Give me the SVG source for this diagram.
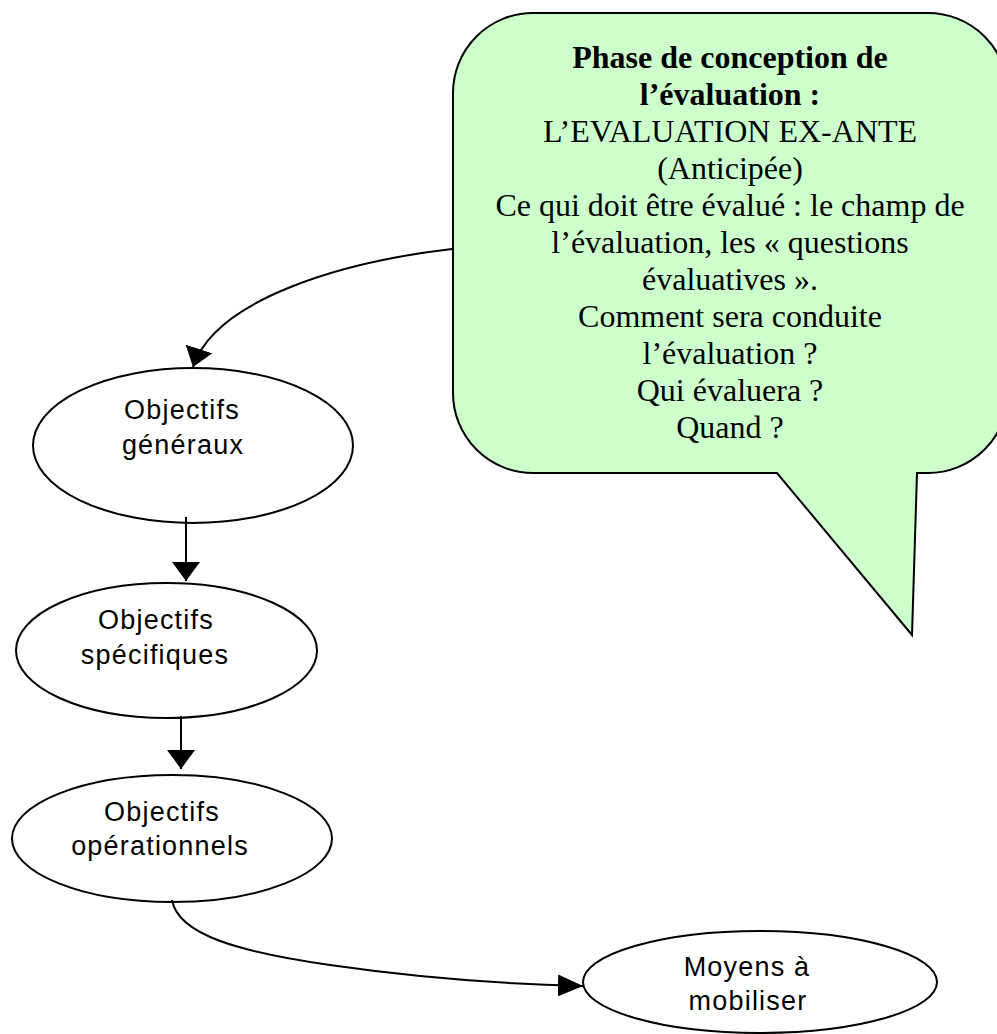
<svg xmlns="http://www.w3.org/2000/svg" width="997" height="1034" viewBox="0 0 997 1034">
  <style>
    .node { fill: #ffffff; stroke: #000000; stroke-width: 2; }
    .callout { fill: #ccffcc; stroke: #000000; stroke-width: 2; stroke-linejoin: miter; }
    .label { font-family: "Liberation Sans", Arial, sans-serif; font-size: 27px; letter-spacing: 1.2px; fill: #000000; text-anchor: middle; }
    .ctext { font-family: "Liberation Serif", "Times New Roman", serif; font-size: 32px; fill: #000000; text-anchor: middle; }
    .bold { font-weight: bold; }
    .link { fill: none; stroke: #000000; stroke-width: 2; }
  </style>
  <defs>
    <marker id="arrow" markerUnits="userSpaceOnUse" viewBox="0 0 19 28" refX="19" refY="14" markerWidth="19" markerHeight="28" orient="auto">
      <path d="M0,0 L19,14 L0,28 Z" fill="#000000"/>
    </marker>
    <marker id="arrow-long" markerUnits="userSpaceOnUse" viewBox="0 0 25 22" refX="25" refY="11" markerWidth="25" markerHeight="22" orient="auto">
      <path d="M0,0 L25,11 L0,22 Z" fill="#000000"/>
    </marker>
  </defs>

  <!-- speech bubble with downward tail -->
  <g id="callout">
    <path class="callout" d="M533,13 H928 A80,80 0 0 1 1008,93 V393 A80,80 0 0 1 928,473 H917 L912,635 L777,473 H533 A80,80 0 0 1 453,393 V93 A80,80 0 0 1 533,13 Z"/>
    <text class="ctext bold" x="730" y="68">Phase de conception de</text>
    <text class="ctext bold" x="730" y="105">l’évaluation :</text>
    <text class="ctext" x="730" y="142">L’EVALUATION EX-ANTE</text>
    <text class="ctext" x="730" y="179">(Anticipée)</text>
    <text class="ctext" x="730" y="216">Ce qui doit être évalué : le champ de</text>
    <text class="ctext" x="730" y="253">l’évaluation, les « questions</text>
    <text class="ctext" x="730" y="290">évaluatives ».</text>
    <text class="ctext" x="730" y="327">Comment sera conduite</text>
    <text class="ctext" x="730" y="364">l’évaluation ?</text>
    <text class="ctext" x="730" y="401">Qui évaluera ?</text>
    <text class="ctext" x="730" y="438">Quand ?</text>
  </g>

  <g id="objectifs-generaux">
    <ellipse class="node" cx="193" cy="445.5" rx="160" ry="77.5"/>
    <text class="label" x="182" y="419">Objectifs</text>
    <text class="label" x="183" y="454">généraux</text>
  </g>

  <g id="objectifs-specifiques">
    <ellipse class="node" cx="166.5" cy="650.5" rx="150.5" ry="67.5"/>
    <text class="label" x="156" y="629">Objectifs</text>
    <text class="label" x="155" y="664">spécifiques</text>
  </g>

  <g id="objectifs-operationnels">
    <ellipse class="node" cx="172" cy="838.5" rx="160" ry="63.5"/>
    <text class="label" x="162" y="821">Objectifs</text>
    <text class="label" x="160" y="855">opérationnels</text>
  </g>

  <g id="moyens-a-mobiliser">
    <ellipse class="node" cx="760" cy="982" rx="177" ry="51"/>
    <text class="label" x="747" y="976">Moyens à</text>
    <text class="label" x="748" y="1010">mobiliser</text>
  </g>

  <g id="connectors">
    <path class="link" d="M452,249 C340,262 215,300 193,367" marker-end="url(#arrow)"/>
    <path class="link" d="M186,517 V581" marker-end="url(#arrow)"/>
    <path class="link" d="M181,716 V769" marker-end="url(#arrow)"/>
    <path class="link" d="M172,900 C178,935 240,952 330,965 C420,978 500,984 583,986" marker-end="url(#arrow-long)"/>
  </g>
</svg>
